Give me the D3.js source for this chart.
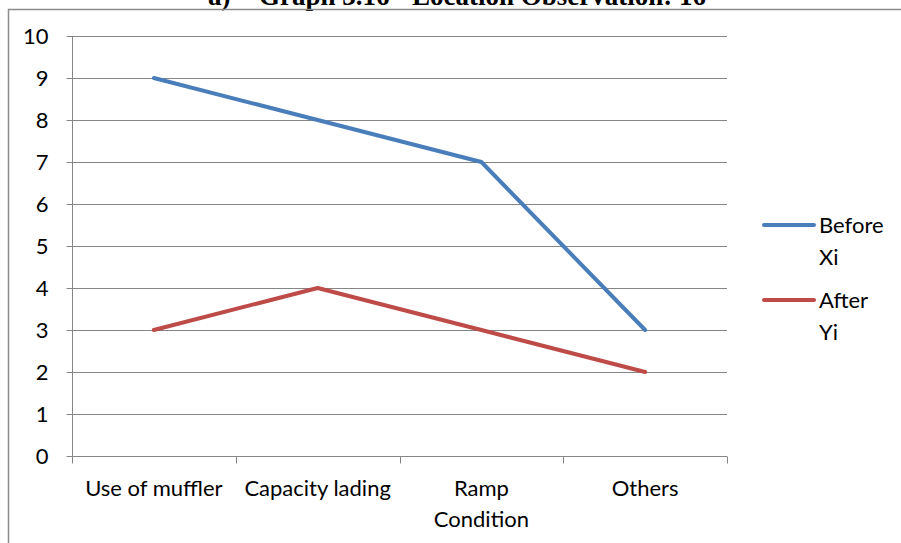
<!DOCTYPE html>
<html>
<head>
<meta charset="utf-8">
<script src="https://cdn.jsdelivr.net/npm/d3@7"></script>
<style>
  html, body { margin: 0; padding: 0; background: #fff; }
  svg { display: block; }
</style>
</head>
<body>
<svg id="chart" width="901" height="543"></svg>
<script>
// Observation factors and counts before / after
const categories = ["Use of muffler", "Capacity lading", "Ramp\nCondition", "Others"];
const beforeXi = [9, 8, 7, 3];
const afterYi = [3, 4, 3, 2];
const yTicks = [0, 1, 2, 3, 4, 5, 6, 7, 8, 9, 10];
const seriesNames = ["Before\nXi", "After\nYi"];
const seriesColors = ["#4A7EBB", "#BE4B48"];

const svg = d3.select("#chart");
const font = "Lato, 'Open Sans', sans-serif";
const fontSize = 22;

// Caption above the chart frame (runs off the top of the page)
const cap = svg.append("g")
  .attr("font-family", "'Liberation Serif', 'Times New Roman', serif")
  .attr("font-weight", "bold")
  .attr("font-size", 27)
  .attr("fill", "#000");
cap.append("text").attr("x", 208).attr("y", 5).text("a)");
cap.append("text").attr("x", 259).attr("y", 5).text("Graph 3.16 - Location Observation: 16");

// Chart frame
svg.append("path")
  .attr("d", "M8.5,560 V9.5 H910")
  .attr("fill", "none")
  .attr("stroke", "#8c8c8c")
  .attr("stroke-width", 1.5);

const plot = { left: 72, right: 727, top: 36, bottom: 456 };

const x = d3.scaleBand().domain(categories).range([plot.left, plot.right]);
const y = d3.scaleLinear().domain([0, 10]).range([plot.bottom, plot.top]);

const g = svg.append("g");

// Horizontal gridlines
g.selectAll("line.grid")
  .data(yTicks.filter(d => d > 0))
  .join("line")
  .attr("class", "grid")
  .attr("x1", plot.left).attr("x2", plot.right)
  .attr("y1", d => Math.round(y(d)) + 0.5).attr("y2", d => Math.round(y(d)) + 0.5)
  .attr("stroke", "#868686").attr("stroke-width", 1);

// Y axis
const yAxis = g.append("g")
  .attr("transform", `translate(${plot.left + 0.5},0)`)
  .call(d3.axisLeft(y).tickValues(yTicks).tickSize(6).tickPadding(18).tickFormat(d3.format("d")));
yAxis.select(".domain").attr("stroke", "#868686").attr("d", `M0,${plot.top} V${plot.bottom + 3}`);
yAxis.selectAll(".tick line").attr("stroke", "#868686");
yAxis.selectAll(".tick text")
  .attr("font-family", font).attr("font-size", fontSize).attr("fill", "#000");

// X axis with ticks on band boundaries
const xg = g.append("g").attr("transform", `translate(0,${plot.bottom + 0.5})`);
xg.append("line")
  .attr("x1", plot.left - 3).attr("x2", plot.right)
  .attr("stroke", "#868686");
const bounds = categories.map(c => x(c)).concat([x(categories[categories.length - 1]) + x.bandwidth()]);
xg.selectAll("line.tick")
  .data(bounds)
  .join("line")
  .attr("class", "tick")
  .attr("x1", d => Math.round(d) + 0.5).attr("x2", d => Math.round(d) + 0.5)
  .attr("y1", 0).attr("y2", 7)
  .attr("stroke", "#868686");

const xl = xg.selectAll("text.cat")
  .data(categories)
  .join("text")
  .attr("class", "cat")
  .attr("text-anchor", "middle")
  .attr("font-family", font).attr("font-size", fontSize).attr("fill", "#000")
  .attr("transform", d => `translate(${x(d) + x.bandwidth() / 2},39)`);
xl.selectAll("tspan")
  .data(d => d.split("\n"))
  .join("tspan")
  .attr("x", 0)
  .attr("dy", (d, i) => i === 0 ? 0 : 31)
  .text(d => d);

// Series lines
const line = d3.line()
  .x((d, i) => x(categories[i]) + x.bandwidth() / 2)
  .y(d => y(d));

[beforeXi, afterYi].forEach((vals, k) => {
  g.append("path")
    .datum(vals)
    .attr("d", line)
    .attr("fill", "none")
    .attr("stroke", seriesColors[k])
    .attr("stroke-width", 4)
    .attr("stroke-linejoin", "round")
    .attr("stroke-linecap", "round");
});

// Legend
const legend = svg.append("g");
seriesNames.forEach((name, k) => {
  const ly = 225 + k * 75;
  legend.append("line")
    .attr("x1", 764).attr("x2", 814)
    .attr("y1", ly).attr("y2", ly)
    .attr("stroke", seriesColors[k]).attr("stroke-width", 4)
    .attr("stroke-linecap", "round");
  const t = legend.append("text")
    .attr("font-family", font).attr("font-size", fontSize).attr("fill", "#000")
    .attr("transform", `translate(819,${ly + 8})`);
  t.selectAll("tspan")
    .data(name.split("\n"))
    .join("tspan")
    .attr("x", 0)
    .attr("dy", (d, i) => i === 0 ? 0 : 32)
    .text(d => d);
});
</script>
</body>
</html>
